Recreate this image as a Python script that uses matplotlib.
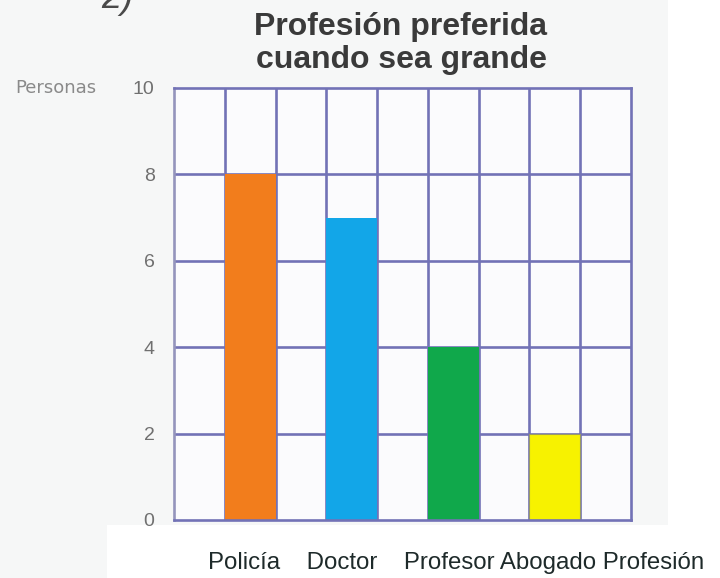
import matplotlib
matplotlib.use("Agg")
import matplotlib.pyplot as plt
from matplotlib.patches import Rectangle

# ---- data ----
categories = ["Policía", "Doctor", "Profesor", "Abogado"]
values = [8, 7, 4, 2]
bar_colors = ["#F27D1C", "#12A6E8", "#10A84B", "#F7F200"]
bar_slots = [1, 3, 5, 7]          # column index of each bar in the 9-column grid
y_ticks = [0, 2, 4, 6, 8, 10]
n_columns = 9
title_lines = ["Profesión preferida", "cuando sea grande"]
y_label = "Personas"
x_label = "Profesión"
label_gaps = ["    ", "    ", " ", " "]   # spacing between labels in the bottom row

W, H = 720, 578
fig = plt.figure(figsize=(W / 100, H / 100), dpi=100)
fig.patch.set_facecolor("white")

# off-white pasted-image background
fig.patches.append(Rectangle((0, 0), 668 / W, 1, transform=fig.transFigure,
                             facecolor="#F6F7F7", edgecolor="none", zorder=-10))
fig.patches.append(Rectangle((107 / W, 0), 1, (H - 525) / H, transform=fig.transFigure,
                             facecolor="white", edgecolor="none", zorder=-9))

ax = fig.add_axes([174 / W, 1 - 520 / H, (631 - 174) / W, (520 - 88) / H])
ax.set_facecolor("#FBFBFD")

grid_col = "#7272B6"
lw = 1.9
ax.set_xlim(0, n_columns)
ax.set_ylim(0, 10)
for xv in range(1, n_columns):
    ax.axvline(xv, color=grid_col, lw=lw, zorder=1)
for yv in y_ticks[1:-1]:
    ax.axhline(yv, color=grid_col, lw=lw, zorder=1)

for s, v, c in zip(bar_slots, values, bar_colors):
    ec = "#9A9A60" if c == "#F7F200" else "none"
    ax.bar(s + 0.5, v, width=1.0, color=c, edgecolor=ec, linewidth=0.8, zorder=2)

for side in ["top", "right", "bottom"]:
    ax.spines[side].set_color(grid_col)
    ax.spines[side].set_linewidth(lw)
ax.spines["left"].set_color("#9494BC")
ax.spines["left"].set_linewidth(lw)
for sp in ax.spines.values():
    sp.set_zorder(3)

ax.set_xticks([])
ax.set_yticks(y_ticks)
ax.set_yticklabels([str(t) for t in y_ticks], color="#707070", fontsize=14,
                   family="Liberation Sans")
ax.tick_params(axis="y", length=0, pad=14)

# y axis label "Personas"
fig.text(15 / W, 1 - 88 / H, y_label, color="#8A8A8A", fontsize=13,
         family="DejaVu Sans", va="center", ha="left")

# title (two lines)
for i, line in enumerate(title_lines):
    fig.text(401 / W, 1 - (35 + 33 * i) / H, line, ha="center", va="baseline",
             fontsize=23, fontweight="bold", color="#3A3A3A",
             family="Liberation Sans")

# clipped "2)" at the top-left
fig.text(117 / W, 1 + 2 / H, "2)", ha="center", va="center", fontsize=26,
         color="#4A4A4A", style="italic", family="Liberation Sans")

# category labels under the chart, as one row
row = ""
for name, gap in zip(categories, label_gaps):
    row += name + gap
row += x_label
fig.text(208 / W, 1 - 563 / H, row, ha="left", va="center",
         fontsize=17.3, color="#1E2A2A", family="Liberation Sans")

fig.savefig("out.png", dpi=100, facecolor=fig.get_facecolor())
